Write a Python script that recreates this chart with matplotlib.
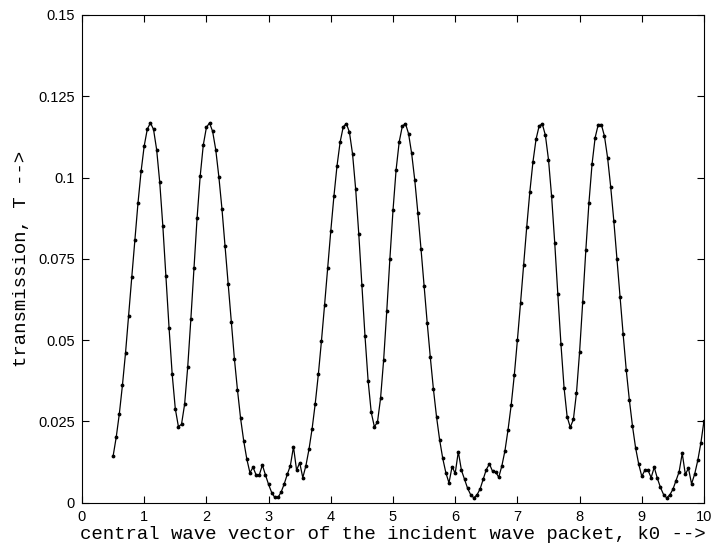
import matplotlib
matplotlib.use("Agg")
import matplotlib.pyplot as plt
import numpy as np

# central wave vector k0, sampled every 0.05 from 0.5 to 10
k0 = np.round(np.arange(0.5, 10.0001, 0.05), 2)

# transmission values
T = [
    0.0143, 0.0201, 0.0273, 0.0361, 0.0461, 0.0575, 0.0693, 0.0809, 0.0921, 0.1019,
    0.1097, 0.1149, 0.1168, 0.1148, 0.1086, 0.0985, 0.0850, 0.0696, 0.0537, 0.0395,
    0.0289, 0.0234, 0.0241, 0.0303, 0.0418, 0.0564, 0.0722, 0.0875, 0.1004, 0.1100,
    0.1154, 0.1168, 0.1142, 0.1086, 0.1003, 0.0904, 0.0790, 0.0673, 0.0556, 0.0443,
    0.0346, 0.0259, 0.0190, 0.0134, 0.0092, 0.0109, 0.0085, 0.0085, 0.0116, 0.0085,
    0.0056, 0.0031, 0.0016, 0.0016, 0.0032, 0.0057, 0.0087, 0.0114, 0.0172, 0.0100,
    0.0123, 0.0077, 0.0114, 0.0165, 0.0228, 0.0305, 0.0395, 0.0498, 0.0608, 0.0723,
    0.0836, 0.0942, 0.1036, 0.1109, 0.1156, 0.1166, 0.1139, 0.1072, 0.0964, 0.0826,
    0.0668, 0.0512, 0.0375, 0.0278, 0.0234, 0.0247, 0.0321, 0.0440, 0.0590, 0.0750,
    0.0899, 0.1024, 0.1110, 0.1158, 0.1166, 0.1135, 0.1074, 0.0992, 0.0891, 0.0781,
    0.0666, 0.0553, 0.0447, 0.0349, 0.0264, 0.0193, 0.0136, 0.0092, 0.0061, 0.0111,
    0.0090, 0.0157, 0.0100, 0.0072, 0.0044, 0.0024, 0.0015, 0.0024, 0.0042, 0.0072,
    0.0102, 0.0119, 0.0097, 0.0095, 0.0078, 0.0113, 0.0160, 0.0225, 0.0300, 0.0392,
    0.0500, 0.0613, 0.0732, 0.0848, 0.0956, 0.1048, 0.1118, 0.1159, 0.1165, 0.1130,
    0.1055, 0.0942, 0.0800, 0.0641, 0.0488, 0.0354, 0.0264, 0.0232, 0.0256, 0.0338,
    0.0464, 0.0617, 0.0776, 0.0922, 0.1041, 0.1123, 0.1163, 0.1163, 0.1127, 0.1061,
    0.0971, 0.0867, 0.0751, 0.0633, 0.0518, 0.0408, 0.0316, 0.0236, 0.0169, 0.0119,
    0.0081, 0.0100, 0.0100, 0.0077, 0.0109, 0.0075, 0.0047, 0.0025, 0.0015, 0.0024,
    0.0041, 0.0068, 0.0095, 0.0152, 0.0087, 0.0106, 0.0058, 0.0088, 0.0130, 0.0184,
    0.0252,
]

yticks = [0, 0.025, 0.05, 0.075, 0.1, 0.125, 0.15]
ytick_labels = ['0', '0.025', '0.05', '0.075', '0.1', '0.125', '0.15']

fig = plt.figure(figsize=(7.18, 5.54), dpi=100)
ax = fig.add_axes([0.1142, 0.0926, 0.8663, 0.8804])

ax.plot(k0, T, color='black', lw=0.9, marker='.', ms=3.5)

ax.set_xlim(0, 10)
ax.set_ylim(0, 0.15)
ax.set_xticks(range(11))
ax.set_yticks(yticks)
ax.set_yticklabels(ytick_labels)
ax.tick_params(direction='in', top=True, right=True, length=5, width=0.8,
               labelsize=10.5, pad=5)
for lab in ax.get_xticklabels() + ax.get_yticklabels():
    lab.set_fontfamily('Liberation Sans')
for s in ax.spines.values():
    s.set_linewidth(0.8)

ax.set_xlabel('central wave vector of the incident wave packet, k0 -->',
              family='Liberation Mono', fontsize=13.7, labelpad=2)
ax.set_ylabel('transmission, T -->', family='Liberation Mono', fontsize=13.7,
              labelpad=6)

fig.savefig('out.png', dpi=100)
